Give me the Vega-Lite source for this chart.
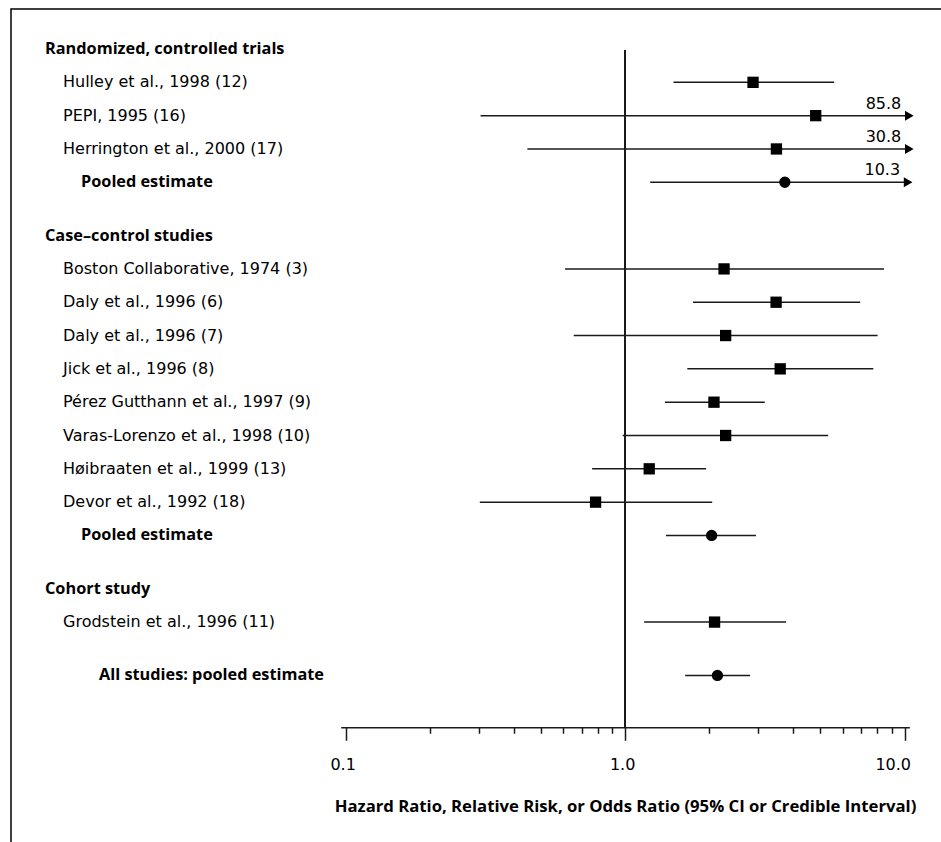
{
  "$schema": "https://vega.github.io/schema/vega-lite/v6.json",
  "width": 933,
  "height": 836,
  "autosize": {"type": "none"},
  "padding": {"left": 11, "top": 9, "right": -3, "bottom": -3},
  "background": "white",
  "config": {
    "font": "DejaVu Sans",
    "view": {"stroke": "black", "strokeWidth": 1.5},
    "text": {"fontSize": 16, "color": "black"}
  },
  "data": {
    "values": [
      {"label": "Randomized, controlled trials", "level": "header", "row": 0},
      {"label": "Hulley et al., 1998 (12)", "level": "study", "row": 1, "est": 2.87, "lo": 1.49, "hi": 5.6},
      {"label": "PEPI, 1995 (16)", "level": "study", "row": 2, "est": 4.81, "lo": 0.304, "hi": 85.8},
      {"label": "Herrington et al., 2000 (17)", "level": "study", "row": 3, "est": 3.48, "lo": 0.447, "hi": 30.8},
      {"label": "Pooled estimate", "level": "pooled", "row": 4, "est": 3.73, "lo": 1.23, "hi": 10.3},
      {"label": "Case–control studies", "level": "header", "row": 5.6},
      {"label": "Boston Collaborative, 1974 (3)", "level": "study", "row": 6.6, "est": 2.26, "lo": 0.61, "hi": 8.44},
      {"label": "Daly et al., 1996 (6)", "level": "study", "row": 7.6, "est": 3.47, "lo": 1.75, "hi": 6.94},
      {"label": "Daly et al., 1996 (7)", "level": "study", "row": 8.6, "est": 2.29, "lo": 0.655, "hi": 8.01},
      {"label": "Jick et al., 1996 (8)", "level": "study", "row": 9.6, "est": 3.59, "lo": 1.67, "hi": 7.73},
      {"label": "Pérez Gutthann et al., 1997 (9)", "level": "study", "row": 10.6, "est": 2.08, "lo": 1.39, "hi": 3.16},
      {"label": "Varas-Lorenzo et al., 1998 (10)", "level": "study", "row": 11.6, "est": 2.29, "lo": 0.98, "hi": 5.33},
      {"label": "Høibraaten et al., 1999 (13)", "level": "study", "row": 12.6, "est": 1.22, "lo": 0.762, "hi": 1.95},
      {"label": "Devor et al., 1992 (18)", "level": "study", "row": 13.6, "est": 0.784, "lo": 0.302, "hi": 2.05},
      {"label": "Pooled estimate", "level": "pooled", "row": 14.6, "est": 2.04, "lo": 1.4, "hi": 2.94},
      {"label": "Cohort study", "level": "header", "row": 16.2},
      {"label": "Grodstein et al., 1996 (11)", "level": "study", "row": 17.2, "est": 2.09, "lo": 1.17, "hi": 3.77},
      {"label": "All studies: pooled estimate", "level": "overall", "row": 18.8, "est": 2.14, "lo": 1.64, "hi": 2.8}
    ]
  },
  "resolve": {"scale": {"x": "independent"}},
  "layer": [
    {
      "layer": [
        {
          "transform": [{"filter": "datum.level == 'study'"}],
          "mark": {"type": "text", "align": "left", "baseline": "middle", "fontWeight": "normal", "font": "DejaVu Sans", "fontSize": 16},
          "encoding": {
            "x": {"field": "level", "type": "ordinal", "axis": null,
                  "scale": {"type": "point", "domain": ["header", "study", "pooled", "overall"], "range": [34, 88], "padding": 0}},
            "y": {"field": "row", "type": "quantitative", "axis": null,
                  "scale": {"domain": [0, 18.8], "range": [40, 666.4], "nice": false, "zero": false}},
            "text": {"field": "label"}
          }
        },
        {
          "transform": [{"filter": "datum.level != 'study'"}],
          "mark": {"type": "text", "align": "left", "baseline": "middle", "fontWeight": "bold", "font": "Open Sans", "fontSize": 16.3},
          "encoding": {
            "x": {"field": "level", "type": "ordinal", "axis": null,
                  "scale": {"type": "point", "domain": ["header", "study", "pooled", "overall"], "range": [34, 88], "padding": 0}},
            "y": {"field": "row", "type": "quantitative", "axis": null},
            "text": {"field": "label"}
          }
        }
      ]
    },
    {
      "layer": [
        {
          "mark": {"type": "rule", "color": "#1a1a1a", "strokeWidth": 1.5},
          "encoding": {
            "x": {"datum": 1, "type": "quantitative",
                  "scale": {"type": "log", "domain": [0.096, 10.4], "range": [329.7, 898.3], "clamp": true, "nice": false},
                  "axis": {
                    "title": "Hazard Ratio, Relative Risk, or Odds Ratio (95% CI or Credible Interval)",
                    "orient": "bottom",
                    "offset": -117.7,
                    "values": [0.1, 0.2, 0.3, 0.4, 0.5, 0.6, 0.7, 0.8, 0.9, 1, 2, 3, 4, 5, 6, 7, 8, 9, 10],
                    "labelExpr": "datum.value == 0.1 || datum.value == 1 || datum.value == 10 ? format(datum.value, '.1f') : ''",
                    "tickSize": {"condition": {"test": "datum.value == 0.1 || datum.value == 1 || datum.value == 10", "value": 13}, "value": 6},
                    "labelAlign": {"condition": {"test": "datum.value == 10", "value": "right"}, "value": "center"},
                    "labelOffset": {"condition": {"test": "datum.value == 10", "value": 6}, "value": -3},
                    "tickColor": "#1a1a1a",
                    "tickWidth": 1.5,
                    "domainColor": "#1a1a1a",
                    "domainWidth": 1.5,
                    "grid": false,
                    "labelFont": "DejaVu Sans",
                    "labelFontSize": 16,
                    "labelColor": "black",
                    "labelPadding": 16,
                    "labelFlush": false,
                    "labelOverlap": false,
                    "titleFont": "Open Sans",
                    "titleFontSize": 16.7,
                    "titleFontWeight": "bold",
                    "titleColor": "black",
                    "titlePadding": 26
                  }},
            "y": {"datum": 0.05, "type": "quantitative", "axis": null},
            "y2": {"datum": 20.36}
          }
        },
        {
          "transform": [{"filter": "isValid(datum.est)"}],
          "mark": {"type": "rule", "color": "#1a1a1a", "strokeWidth": 1.5},
          "encoding": {
            "x": {"field": "lo", "type": "quantitative"},
            "x2": {"field": "hi"},
            "y": {"field": "row", "type": "quantitative", "axis": null}
          }
        },
        {
          "transform": [{"filter": "isValid(datum.est)"}],
          "mark": {"type": "point", "filled": true, "opacity": 1, "color": "black", "size": 128},
          "encoding": {
            "x": {"field": "est", "type": "quantitative"},
            "y": {"field": "row", "type": "quantitative", "axis": null},
            "shape": {"field": "level", "type": "nominal", "legend": null,
                      "scale": {"domain": ["study", "pooled", "overall"], "range": ["square", "circle", "circle"]}}
          }
        },
        {
          "transform": [{"filter": "datum.hi > 10"}],
          "mark": {"type": "point", "filled": true, "opacity": 1, "color": "black", "size": 100, "shape": "triangle-right"},
          "encoding": {
            "x": {"field": "hi", "type": "quantitative"},
            "y": {"field": "row", "type": "quantitative", "axis": null}
          }
        },
        {
          "transform": [{"filter": "datum.hi > 10"}],
          "mark": {"type": "text", "align": "right", "baseline": "middle", "dx": -8, "dy": -12, "fontSize": 16, "font": "DejaVu Sans"},
          "encoding": {
            "x": {"field": "hi", "type": "quantitative"},
            "y": {"field": "row", "type": "quantitative", "axis": null},
            "text": {"field": "hi", "type": "quantitative", "format": ".1f"}
          }
        }
      ]
    }
  ]
}
